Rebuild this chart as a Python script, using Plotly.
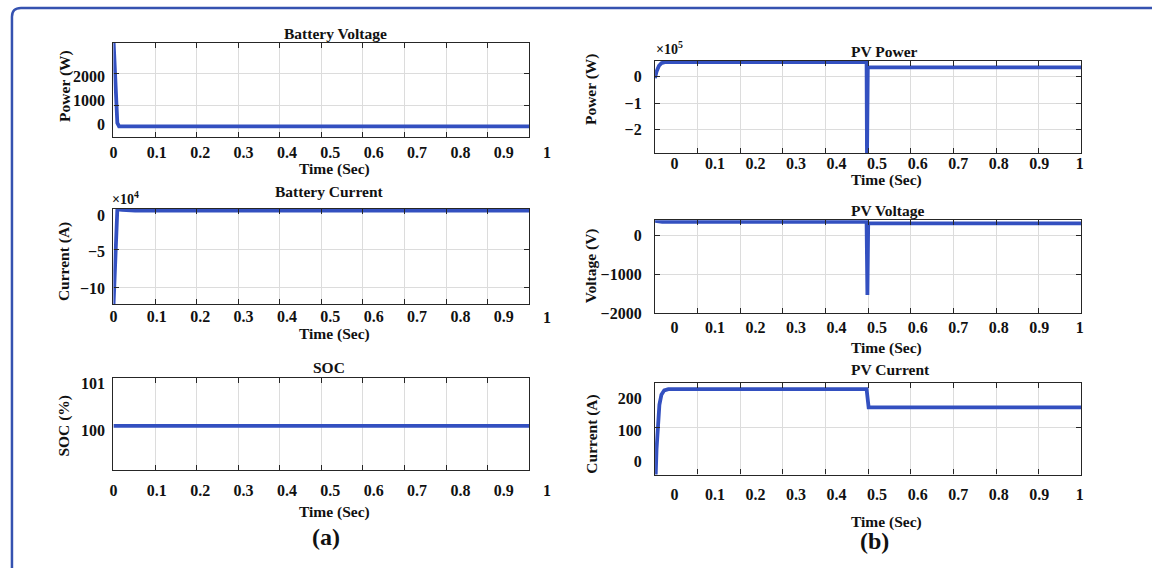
import plotly.graph_objects as go

W, H = 1152, 568
SERIF = "Liberation Serif"
BLUE = "#3350c0"
INK = "#111111"
FRAME = "#262626"
GRID = "#dcdcdc"

# ---------------- data ----------------
bv_time = [0.0, 0.003, 0.006, 0.009, 0.013, 0.959]
bv_power = [3600, 2100, 700, 60, -80, -80]

bc_time = [0.0, 0.003, 0.006, 0.009, 0.02, 0.05, 0.959]
bc_current = [-12.6, -8.0, -1.5, 0.75, 0.7, 0.6, 0.6]  # x 10^4

soc_time = [0.0, 0.959]
soc_value = [100.1, 100.1]

pvp_time = [-0.048, -0.044, -0.038, -0.032, -0.024, 0.474, 0.475, 0.477, 1.004]
pvp_power = [-0.05, 0.2, 0.42, 0.52, 0.56, 0.56, -3.2, 0.36, 0.36]  # x 10^5

pvv_time = [-0.048, -0.03, 0.474, 0.476, 0.478, 1.004]
pvv_voltage = [390, 362, 360, -1530, 320, 320]

pvi_time = [-0.048, -0.0475, -0.046, -0.044, -0.041, -0.037, -0.032,
            -0.025, -0.015, 0.474, 0.479, 1.004]
pvi_current = [-8, -45, -40, 40, 120, 180, 212, 226, 230, 230, 172, 172]

time_ticks = [0, 0.1, 0.2, 0.3, 0.4, 0.5, 0.6, 0.7, 0.8, 0.9, 1]
time_labels = ["0", "0.1", "0.2", "0.3", "0.4", "0.5", "0.6", "0.7", "0.8", "0.9", "1"]


def fx(p):
    return p / W


def fy(p):
    return 1 - p / H


LEFT_BOX = (110, 528)
RIGHT_BOX = (654.5, 1083)

panels = [
    dict(title="Battery Voltage", ytitle="Power (W)", t=bv_time, v=bv_power,
         xbox=LEFT_BOX, ybox=(40.7, 137.3), xr=[0, 0.9587], yr=[-543, 3400],
         yticks=[0, 1000, 2000], ygrid=[804, 2135],
         title_xy=(333, 31.5), ytitle_xy=(62, 85), time_xy=(332, 170),
         xstand=0, ystand=4, label_y=153),
    dict(title="Battery Current", ytitle="Current (A)", t=bc_time, v=bc_current,
         xbox=LEFT_BOX, ybox=(210.5, 307.7), xr=[0, 0.9587], yr=[-12.16, 0.8],
         yticks=[0, -5, -10], ygrid=[-4.7, -9.9],
         title_xy=(327, 193), ytitle_xy=(61, 264), time_xy=(332, 338),
         xstand=-3, ystand=4, label_y=321),
    dict(title="SOC", ytitle="SOC (%)", t=soc_time, v=soc_value,
         xbox=LEFT_BOX, ybox=(382.7, 477.3), xr=[0, 0.9587], yr=[99.17, 101.115],
         yticks=[99, 100, 101], ygrid=[],
         title_xy=(327, 372), ytitle_xy=(60, 432), time_xy=(332, 520),
         xstand=5, ystand=4, label_y=498),
    dict(title="PV Power", ytitle="Power (W)", t=pvp_time, v=pvp_power,
         xbox=RIGHT_BOX, ybox=(59.3, 153.3), xr=[-0.0476, 1.0037], yr=[-2.9, 0.6],
         yticks=[0, -1, -2], ygrid=[0, -1, -2],
         title_xy=(885, 50), ytitle_xy=(590, 88), time_xy=(887, 181),
         xstand=-4, ystand=9, label_y=164),
    dict(title="PV Voltage", ytitle="Voltage (V)", t=pvv_time, v=pvv_voltage,
         xbox=RIGHT_BOX, ybox=(222, 316.7), xr=[-0.0476, 1.0037], yr=[-2000, 400],
         yticks=[0, -1000, -2000], ygrid=[0, -1000],
         title_xy=(888, 212), ytitle_xy=(590, 268), time_xy=(887, 352),
         xstand=0, ystand=9, label_y=333),
    dict(title="PV Current", ytitle="Current (A)", t=pvi_time, v=pvi_current,
         xbox=RIGHT_BOX, ybox=(388.3, 481.7), xr=[-0.0476, 1.0037], yr=[-42, 249],
         yticks=[0, 100, 200], ygrid=[107],
         title_xy=(891, 374), ytitle_xy=(591, 440), time_xy=(887, 530),
         xstand=5, ystand=9, label_y=503),
]

fig = go.Figure()
layout = {}
annotations = []

tick_font = dict(family=SERIF, size=16, color=INK, weight="bold")
title_font = dict(family=SERIF, size=15.5, color=INK, weight="bold")

for i, p in enumerate(panels, start=1):
    sfx = "" if i == 1 else str(i)
    xname, yname = "x" + sfx, "y" + sfx

    fig.add_trace(go.Scatter(
        x=p["t"], y=p["v"], mode="lines",
        line=dict(color=BLUE, width=3.8),
        xaxis=xname, yaxis=yname, showlegend=False, hoverinfo="skip"))

    x0, x1 = p["xr"]
    # vertical grid divides each box into ten equal parts
    xgrid = [x0 + (x1 - x0) * k / 10 for k in range(1, 10)]
    layout["xaxis" + sfx] = dict(
        domain=[fx(p["xbox"][0]), fx(p["xbox"][1])], anchor=yname,
        range=p["xr"], tickmode="array", tickvals=time_ticks, ticktext=time_labels,
        ticks="", showgrid=False, zeroline=False,
        showline=True, linecolor=FRAME, linewidth=1.3, mirror="ticks",
        tickfont=tick_font, ticklabelstandoff=p["xstand"],
        minor=dict(tickmode="array", tickvals=xgrid, showgrid=True,
                   gridcolor=GRID, gridwidth=1, ticks="inside", ticklen=5,
                   tickcolor=FRAME, tickwidth=1.2),
    )

    major_grid = bool(p["ygrid"]) and set(p["ygrid"]) <= set(p["yticks"])
    yax = dict(
        domain=[fy(p["ybox"][1]), fy(p["ybox"][0])], anchor=xname,
        range=p["yr"], tickmode="array", tickvals=p["yticks"],
        showgrid=major_grid, gridcolor=GRID, gridwidth=1, zeroline=False,
        ticks="inside" if major_grid else "", ticklen=5, tickcolor=FRAME, tickwidth=1.2,
        showline=True, linecolor=FRAME, linewidth=1.3, mirror="ticks",
        tickfont=tick_font, ticklabelstandoff=p["ystand"],
    )
    if p["ygrid"] and not major_grid:
        yax["minor"] = dict(tickmode="array", tickvals=p["ygrid"], showgrid=True,
                            gridcolor=GRID, gridwidth=1, ticks="inside", ticklen=5,
                            tickcolor=FRAME, tickwidth=1.2)
    layout["yaxis" + sfx] = yax

    tx, ty = p["title_xy"]
    annotations.append(dict(text=p["title"], x=fx(tx), y=fy(ty), xref="paper", yref="paper",
                            xanchor="center", yanchor="middle", showarrow=False,
                            font=title_font))
    ax_, ay_ = p["ytitle_xy"]
    annotations.append(dict(text=p["ytitle"], x=fx(ax_), y=fy(ay_), xref="paper", yref="paper",
                            xanchor="center", yanchor="middle", showarrow=False,
                            textangle=-90, font=title_font))
    mx, my = p["time_xy"]
    annotations.append(dict(text="Time (Sec)", x=fx(mx), y=fy(my), xref="paper", yref="paper",
                            xanchor="center", yanchor="middle", showarrow=False,
                            font=title_font))

    # the last time label lies past the right edge of the left-hand boxes
    if x1 < 1:
        bl, br = p["xbox"]
        x_one = bl + (1 - x0) / (x1 - x0) * (br - bl)
        annotations.append(dict(text="1", x=fx(x_one), y=fy(p["label_y"]),
                                xref="paper", yref="paper", xanchor="center",
                                yanchor="middle", showarrow=False, font=tick_font))

# exponent labels
annotations.append(dict(text="×10<sup>4</sup>", x=fx(122), y=fy(199), xref="paper", yref="paper",
                        xanchor="center", yanchor="middle", showarrow=False,
                        font=dict(family=SERIF, size=14, color=INK, weight="bold")))
annotations.append(dict(text="×10<sup>5</sup>", x=fx(669), y=fy(46), xref="paper", yref="paper",
                        xanchor="center", yanchor="middle", showarrow=False,
                        font=dict(family=SERIF, size=14, color=INK, weight="bold")))

# group captions
for label, cx, cy in [("(a)", 324, 546), ("(b)", 875, 550)]:
    annotations.append(dict(text=label, x=fx(cx), y=fy(cy), xref="paper", yref="paper",
                            xanchor="center", yanchor="middle", showarrow=False,
                            font=dict(family=SERIF, size=24, color=INK, weight="bold")))

# rounded outer frame (top-left corner visible)
r = 9
bx, by = 8, 5
frame_path = (f"M {fx(bx)},{fy(H + 10)} L {fx(bx)},{fy(by + r)} "
              f"Q {fx(bx)},{fy(by)} {fx(bx + r)},{fy(by)} L {fx(W + 10)},{fy(by)}")

fig.update_layout(
    width=W, height=H,
    margin=dict(l=0, r=0, t=0, b=0),
    paper_bgcolor="white", plot_bgcolor="white",
    annotations=annotations,
    shapes=[dict(type="path", path=frame_path, xref="paper", yref="paper",
                 line=dict(color="#3552b0", width=2.5))],
    **layout,
)

fig.write_html("out.html")
